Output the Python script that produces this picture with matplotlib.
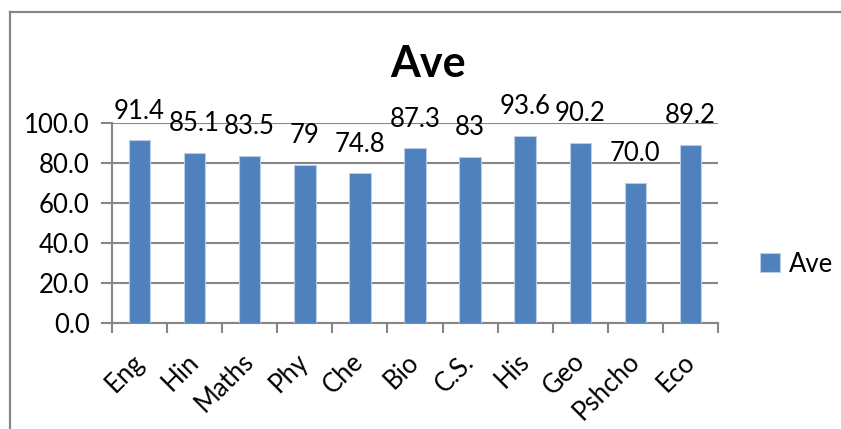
import matplotlib
matplotlib.use("Agg")
import matplotlib.pyplot as plt
from matplotlib.lines import Line2D
import numpy as np

plt.rcParams['font.family'] = ['Lato', 'DejaVu Sans']

categories = ["Eng", "Hin", "Maths", "Phy", "Che", "Bio", "C.S.", "His", "Geo", "Pshcho", "Eco"]
values = [91.4, 85.1, 83.5, 79, 74.8, 87.3, 83, 93.6, 90.2, 70.0, 89.2]
value_labels = ["91.4", "85.1", "83.5", "79", "74.8", "87.3", "83", "93.6", "90.2", "70.0", "89.2"]
yticks = [0, 20, 40, 60, 80, 100]
ytick_labels = ["0.0", "20.0", "40.0", "60.0", "80.0", "100.0"]
series_name = "Ave"
title = "Ave"

W, H = 841, 429
fig = plt.figure(figsize=(W / 100, H / 100), dpi=100)
fig.patch.set_facecolor("white")

# chart area border (top and left only visible)
fig.lines.append(Line2D([9.5 / W, 1.0], [1 - 11.5 / H, 1 - 11.5 / H],
                        transform=fig.transFigure, color="#868686", linewidth=1.6))
fig.lines.append(Line2D([9.5 / W, 9.5 / W], [0.0, 1 - 11.5 / H],
                        transform=fig.transFigure, color="#868686", linewidth=1.6))

ax = fig.add_axes([112 / W, 1 - 323 / H, (718 - 112) / W, (323 - 123) / H])
x = np.arange(len(categories))
bars = ax.bar(x, values, width=0.39, color="#4F81BD", edgecolor="#B9CDE5",
              linewidth=0.8, label=series_name, zorder=3)

ax.set_xlim(-0.5, len(categories) - 0.5)
ax.set_ylim(0, 100)
ax.set_yticks(yticks)
ax.set_yticklabels(ytick_labels)
ax.yaxis.grid(True, color="#868686", linewidth=1.5, zorder=0)
ax.set_axisbelow(True)

for s in ["top", "right"]:
    ax.spines[s].set_visible(False)
for s in ["left", "bottom"]:
    ax.spines[s].set_color("#868686")
    ax.spines[s].set_linewidth(1.5)

FS = 18.5
ax.tick_params(axis="y", length=8, width=1.5, color="#868686", pad=8,
               labelsize=FS, labelcolor="black")
ax.set_xticks(x)
ax.set_xticklabels(categories, rotation=45, ha="right", va="center",
                   rotation_mode="anchor", fontsize=FS)
ax.set_xticks(np.arange(-0.5, len(categories), 1), minor=True)
ax.tick_params(axis="x", which="major", length=0, pad=25)
ax.tick_params(axis="x", which="minor", length=7, width=1.5, color="#868686")

for xi, v, lab in zip(x, values, value_labels):
    ax.annotate(lab, (xi, v), xytext=(0, 12), textcoords="offset points",
                ha="center", va="bottom", fontsize=FS, annotation_clip=False)

fig.text(428 / W, 1 - 77 / H, title, ha="center", va="baseline",
         fontsize=31, fontweight="bold")

fig.legend(handles=[bars], labels=[series_name], loc="center left",
           bbox_to_anchor=(760 / W, 1 - 264 / H), frameon=False,
           borderpad=0, borderaxespad=0,
           fontsize=FS, handlelength=0.78, handleheight=0.78, handletextpad=0.35)

fig.savefig("out.png", dpi=100, facecolor="white")
